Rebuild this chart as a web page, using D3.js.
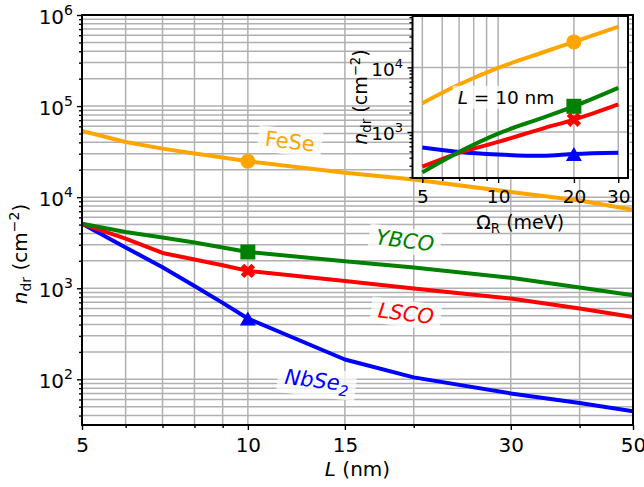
<!DOCTYPE html>
<html>
<head>
<meta charset="utf-8">
<script src="https://cdn.jsdelivr.net/npm/d3@7"></script>
<style>
  body { margin: 0; background: #fff; }
  svg { display: block; font-family: "DejaVu Sans", sans-serif; }
</style>
</head>
<body>
<div id="chart"></div>
<script>
// ---- main panel data: n_dr (cm^-2) vs L (nm) ----
const lengths  = [5, 6, 7, 8, 9, 10, 15, 20, 30, 40, 50];
const feseL    = [53300, 40300, 34100, 30100, 27200, 24800, 18500, 15600, 11400, 9200, 7250];
const ybcoL    = [5100, 4150, 3600, 3170, 2800, 2500, 1980, 1690, 1300, 1020, 838];
const lscoL    = [5100, 3510, 2440, 2070, 1790, 1550, 1200, 993, 771, 598, 484];
const nbse2L   = [5100, 2800, 1700, 1060, 690, 465, 165, 105, 70, 55, 44.7];

// ---- inset data: n_dr vs Omega_R (meV) at L = 10 nm ----
const omegas   = [5, 7, 10, 15, 20, 30];
const feseW    = [2790, 5420, 9790, 17000, 24800, 42700];
const ybcoW    = [237, 492, 945, 1660, 2500, 4820];
const lscoW    = [290, 475, 701, 1130, 1550, 2670];
const nbse2W   = [575, 492, 449, 428, 455, 475];

// ticks
const xMajor  = [5, 10, 15, 30, 50];
const xMinor  = [6, 7, 8, 9, 20, 40];
const xGrid   = [6, 7, 8, 9, 10, 15, 20, 30, 40];
const yMajor  = [1e2, 1e3, 1e4, 1e5, 1e6];
const xiMajor = [5, 10, 20, 30];
const xiMinor = [6, 7, 8, 9];
const yiMajor = [1e3, 1e4];

const series = [
  { name: 'NbSe2', main: nbse2L, inset: nbse2W, color: '#0000ff', marker: 'tri' },
  { name: 'LSCO',  main: lscoL,  inset: lscoW,  color: '#ff0000', marker: 'x' },
  { name: 'YBCO',  main: ybcoL,  inset: ybcoW,  color: '#008000', marker: 'sq' },
  { name: 'FeSe',  main: feseL,  inset: feseW,  color: '#ffa500', marker: 'circ' }
];

const W = 644, H = 487;
const GRID = '#b0b0b0';
const svg = d3.select('#chart').append('svg').attr('width', W).attr('height', H);
svg.append('rect').attr('width', W).attr('height', H).attr('fill', '#fff');

const x = d3.scaleLog().domain([5, 50]).range([82, 633]);
const y = d3.scaleLog().domain([31.5, 1e6]).range([425, 15]);
const [x0, x1] = x.range(), [y0, y1] = [y.range()[1], y.range()[0]];

// marker drawing
function marker(g, type, cx, cy, color) {
  if (type === 'circ') {
    g.append('circle').attr('cx', cx).attr('cy', cy).attr('r', 7.5).attr('fill', color);
  } else if (type === 'sq') {
    g.append('rect').attr('x', cx - 7.5).attr('y', cy - 7.5).attr('width', 15).attr('height', 15).attr('fill', color);
  } else if (type === 'x') {
    g.append('path').attr('d', d3.symbol(d3.symbolCross, 130)())
      .attr('transform', `translate(${cx},${cy}) rotate(45)`).attr('fill', color);
  } else {
    g.append('path').attr('d', 'M0,-7 L8,7 L-8,7 Z')
      .attr('transform', `translate(${cx},${cy})`).attr('fill', color);
  }
}

// ---------- main axes ----------
svg.append('clipPath').attr('id', 'clipMain').append('rect')
  .attr('x', x0).attr('y', y0).attr('width', x1 - x0).attr('height', y1 - y0);

const grid = svg.append('g').attr('stroke', GRID).attr('stroke-width', 1.5);
grid.selectAll('.hy').data(y.ticks()).join('line')
  .attr('x1', x0).attr('x2', x1).attr('y1', d => y(d)).attr('y2', d => y(d));
grid.selectAll('.vx').data(xGrid).join('line')
  .attr('y1', y0).attr('y2', y1).attr('x1', d => x(d)).attr('x2', d => x(d));

const plot = svg.append('g').attr('clip-path', 'url(#clipMain)');
const lineMain = d3.line().x((d, i) => x(lengths[i])).y(d => y(d));
series.forEach(s => {
  plot.append('path').attr('d', lineMain(s.main)).attr('fill', 'none')
    .attr('stroke', s.color).attr('stroke-width', 4).attr('stroke-linejoin', 'round');
});
series.forEach(s => {
  const i = lengths.indexOf(10);
  marker(plot, s.marker, x(10), y(s.main[i]), s.color);
});

// curve labels with white boxes
const curveLabels = [
  { text: 'FeSe',  italic: false, color: '#ffa500', cx: 290, cy: 141 },
  { text: 'YBCO',  italic: true,  color: '#008000', cx: 405, cy: 240 },
  { text: 'LSCO',  italic: true,  color: '#ff0000', cx: 406, cy: 313 },
  { text: 'NbSe',  sub: '2', italic: true, color: '#0000ff', cx: 317, cy: 380 }
];
curveLabels.forEach(l => {
  const g = svg.append('g').attr('transform', `translate(${l.cx},${l.cy}) rotate(7)`);
  const box = g.append('rect').attr('fill', '#fff').attr('opacity', 0.75);
  const t = g.append('text').attr('text-anchor', 'middle').attr('y', 7.7)
    .attr('font-size', 21).attr('fill', l.color)
    .attr('font-style', l.italic ? 'italic' : 'normal');
  t.append('tspan').text(l.text);
  if (l.sub) t.append('tspan').attr('dy', 5).attr('font-size', 14.7).text(l.sub);
  const b = t.node().getBBox();
  box.attr('x', b.x - 7).attr('y', b.y - 1).attr('width', b.width + 14).attr('height', b.height + 2);
});

// main frame + axes
const axX = svg.append('g').attr('transform', `translate(0,${y1})`);
axX.call(d3.axisBottom(x).tickValues(xMinor).tickSize(3).tickFormat(''));
axX.call(g => g.append('g').call(d3.axisBottom(x).tickValues(xMajor).tickSize(5).tickPadding(8)
  .tickFormat(d3.format('d'))));
axX.selectAll('.domain').remove();
axX.selectAll('text').attr('font-size', 20).attr('fill', '#000').attr('font-family', 'DejaVu Sans');
axX.selectAll('line').attr('stroke', '#000').attr('stroke-width', 1.4);

const axY = svg.append('g').attr('transform', `translate(${x0},0)`);
const yMinor = y.ticks().filter(d => !yMajor.includes(d));
axY.call(d3.axisLeft(y).tickValues(yMinor).tickSize(3).tickFormat(''));
axY.call(g => g.append('g').call(d3.axisLeft(y).tickValues(yMajor).tickSize(5).tickFormat('')));
axY.selectAll('.domain').remove();
axY.selectAll('line').attr('stroke', '#000').attr('stroke-width', 1.4);

const yLab = svg.append('g').selectAll('text').data(yMajor).join('text')
  .attr('x', 73).attr('y', d => y(d) + 8.6).attr('text-anchor', 'end').attr('font-size', 20);
yLab.append('tspan').text('10');
yLab.append('tspan').attr('dy', -8.6).attr('font-size', 14).text(d => Math.round(Math.log10(d)));

svg.append('rect').attr('x', x0).attr('y', y0).attr('width', x1 - x0).attr('height', y1 - y0)
  .attr('fill', 'none').attr('stroke', '#000').attr('stroke-width', 2);

// axis titles
const xt = svg.append('text').attr('x', (x0 + x1) / 2).attr('y', 476)
  .attr('text-anchor', 'middle').attr('font-size', 20);
xt.append('tspan').attr('font-style', 'italic').text('L');
xt.append('tspan').text(' (nm)');

const yt = svg.append('text').attr('transform', 'translate(27,254) rotate(-90)')
  .attr('text-anchor', 'middle').attr('font-size', 20);
yt.append('tspan').attr('font-style', 'italic').text('n');
yt.append('tspan').attr('dy', 4).attr('font-size', 14).text('dr');
yt.append('tspan').attr('dy', -4).text(' (cm');
yt.append('tspan').attr('dy', -8).attr('font-size', 14).text('\u22122');
yt.append('tspan').attr('dy', 8).text(')');

// ---------- inset ----------
const xi = d3.scaleLog().domain([4.57, 32.8]).range([412.5, 628]);
const yi = d3.scaleLog().domain([194, 62400]).range([178, 16]);
const [xi0, xi1] = xi.range(), [yi0, yi1] = [yi.range()[1], yi.range()[0]];

svg.append('rect').attr('x', xi0).attr('y', yi0).attr('width', xi1 - xi0).attr('height', yi1 - yi0)
  .attr('fill', '#fff');
svg.append('clipPath').attr('id', 'clipInset').append('rect')
  .attr('x', xi0).attr('y', yi0).attr('width', xi1 - xi0).attr('height', yi1 - yi0);

const gridI = svg.append('g').attr('stroke', GRID).attr('stroke-width', 1.5);
gridI.selectAll('.vx').data(xiMajor.concat(xiMinor)).join('line')
  .attr('y1', yi0).attr('y2', yi1).attr('x1', d => xi(d)).attr('x2', d => xi(d));
gridI.selectAll('.hy').data(yiMajor).join('line')
  .attr('x1', xi0).attr('x2', xi1).attr('y1', d => yi(d)).attr('y2', d => yi(d));

const plotI = svg.append('g').attr('clip-path', 'url(#clipInset)');
const lineInset = d3.line().curve(d3.curveMonotoneX).x((d, i) => xi(omegas[i])).y(d => yi(d));
series.forEach(s => {
  plotI.append('path').attr('d', lineInset(s.inset)).attr('fill', 'none')
    .attr('stroke', s.color).attr('stroke-width', 4).attr('stroke-linejoin', 'round');
});
series.forEach(s => {
  const i = omegas.indexOf(20);
  marker(plotI, s.marker, xi(20), yi(s.inset[i]), s.color);
});

// "L = 10 nm" annotation
const ann = svg.append('g').attr('transform', 'translate(506,97)');
const annBox = ann.append('rect').attr('fill', '#fff').attr('opacity', 0.75);
const annT = ann.append('text').attr('text-anchor', 'middle').attr('y', 6.8).attr('font-size', 18.5);
annT.append('tspan').attr('font-style', 'italic').text('L');
annT.append('tspan').text(' = 10 nm');
const ab = annT.node().getBBox();
annBox.attr('x', ab.x - 5).attr('y', ab.y - 1).attr('width', ab.width + 10).attr('height', ab.height + 2);

// inset axes
const axXi = svg.append('g').attr('transform', `translate(0,${yi1})`);
axXi.call(d3.axisBottom(xi).tickValues(xiMinor).tickSize(3).tickFormat(''));
axXi.call(g => g.append('g').call(d3.axisBottom(xi).tickValues(xiMajor).tickSize(5).tickPadding(7)
  .tickFormat(d3.format('d'))));
axXi.selectAll('.domain').remove();
axXi.selectAll('text').attr('font-size', 18.5).attr('fill', '#000').attr('font-family', 'DejaVu Sans');
axXi.selectAll('line').attr('stroke', '#000').attr('stroke-width', 1.4);

const axYi = svg.append('g').attr('transform', `translate(${xi0},0)`);
const yiMinor = yi.ticks().filter(d => !yiMajor.includes(d));
axYi.call(d3.axisLeft(yi).tickValues(yiMinor).tickSize(3).tickFormat(''));
axYi.call(g => g.append('g').call(d3.axisLeft(yi).tickValues(yiMajor).tickSize(5).tickFormat('')));
axYi.selectAll('.domain').remove();
axYi.selectAll('line').attr('stroke', '#000').attr('stroke-width', 1.4);

const yiLab = svg.append('g').selectAll('text').data(yiMajor).join('text')
  .attr('x', 403).attr('y', d => yi(d) + 8.5).attr('text-anchor', 'end').attr('font-size', 18.5);
yiLab.append('tspan').text('10');
yiLab.append('tspan').attr('dy', -8).attr('font-size', 13).text(d => Math.round(Math.log10(d)));

svg.append('rect').attr('x', xi0).attr('y', yi0).attr('width', xi1 - xi0).attr('height', yi1 - yi0)
  .attr('fill', 'none').attr('stroke', '#000').attr('stroke-width', 2);

const xti = svg.append('text').attr('x', (xi0 + xi1) / 2).attr('y', 229)
  .attr('text-anchor', 'middle').attr('font-size', 19);
xti.append('tspan').text('\u03A9');
xti.append('tspan').attr('dy', 4).attr('font-size', 13.3).text('R');
xti.append('tspan').attr('dy', -4).text(' (meV)');

const yti = svg.append('text').attr('transform', `translate(367,${(yi0 + yi1) / 2}) rotate(-90)`)
  .attr('text-anchor', 'middle').attr('font-size', 19);
yti.append('tspan').attr('font-style', 'italic').text('n');
yti.append('tspan').attr('dy', 4).attr('font-size', 13.3).text('dr');
yti.append('tspan').attr('dy', -4).text(' (cm');
yti.append('tspan').attr('dy', -7.5).attr('font-size', 13.3).text('\u22122');
yti.append('tspan').attr('dy', 7.5).text(')');
</script>
</body>
</html>
